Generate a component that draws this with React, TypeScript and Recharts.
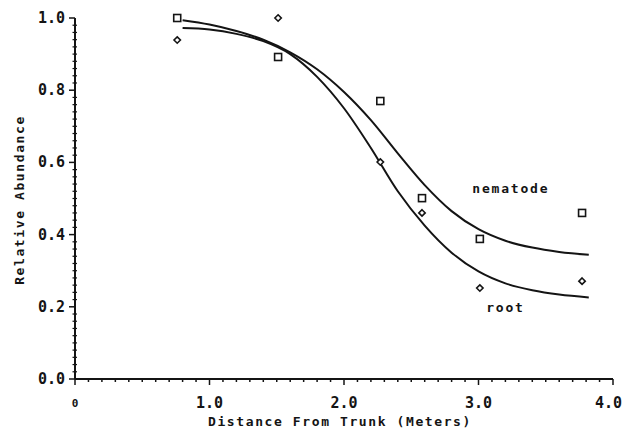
import React from 'react'
import { ComposedChart, Line, Scatter, XAxis, YAxis, Label, ReferenceDot } from 'recharts'

// observed points (squares = nematode, diamonds = root)
const nematodeObs = [
  { x: 0.76, y: 1.0 },
  { x: 1.51, y: 0.892 },
  { x: 2.27, y: 0.77 },
  { x: 2.58, y: 0.501 },
  { x: 3.01, y: 0.388 },
  { x: 3.77, y: 0.46 },
]
const rootObs = [
  { x: 0.76, y: 0.939 },
  { x: 1.51, y: 1.0 },
  { x: 2.27, y: 0.601 },
  { x: 2.58, y: 0.46 },
  { x: 3.01, y: 0.252 },
  { x: 3.77, y: 0.271 },
]

// fitted curves
const fitX = [0.8, 1.0, 1.2, 1.4, 1.6, 1.8, 2.0, 2.2, 2.4, 2.6, 2.8, 3.0, 3.2, 3.4, 3.6, 3.82]
const nematodeFitY = [0.994, 0.982, 0.964, 0.94, 0.905, 0.858, 0.795, 0.717, 0.625, 0.537, 0.465, 0.415, 0.383, 0.364, 0.352, 0.344]
const rootFitY = [0.972, 0.968, 0.956, 0.936, 0.9, 0.837, 0.75, 0.64, 0.52, 0.425, 0.35, 0.298, 0.265, 0.246, 0.234, 0.226]

const nematodeFit = fitX.map((x, i) => ({ x, y: nematodeFitY[i] }))
const rootFit = fitX.map((x, i) => ({ x, y: rootFitY[i] }))

const xTickLabels = ['0', '1.0', '2.0', '3.0', '4.0']
const yTickLabels = ['0.0', '0.2', '0.4', '0.6', '0.8', '1.0']

const xTicks = Array.from({ length: 41 }, (_, i) => i / 10)
const yTicks = Array.from({ length: 51 }, (_, i) => i / 50)

const ink = '#141414'
const mono = '"DejaVu Sans Mono", monospace'

function XTick({ x, y, payload }: any) {
  const v = payload.value
  const major = Math.abs(v - Math.round(v)) < 1e-6
  const label = xTickLabels[Math.round(v)]
  const last = Math.round(v) === 4
  return (
    <g>
      <line x1={x} x2={x} y1={y} y2={y + (major ? 6 : 3)} stroke={ink} strokeWidth={1.5} />
      {major && (
        <text
          x={last ? x + 9 : x}
          y={y + 24}
          textAnchor={last ? 'end' : 'middle'}
          dominantBaseline="central"
          fontFamily={mono}
          fontWeight="bold"
          fontSize={v === 0 ? 11 : 15}
          fill={ink}
        >
          {label}
        </text>
      )}
    </g>
  )
}

function YTick({ x, y, payload }: any) {
  const v = payload.value
  const major = Math.abs(v * 5 - Math.round(v * 5)) < 1e-6
  const label = yTickLabels[Math.round(v * 5)]
  return (
    <g>
      {major ? (
        <line x1={x - 6} x2={x} y1={y} y2={y} stroke={ink} strokeWidth={1.5} />
      ) : (
        <line x1={x - 2.5} x2={x + 2} y1={y} y2={y} stroke={ink} strokeWidth={1.2} />
      )}
      {major && (
        <text x={x - 10} y={y} textAnchor="end" dominantBaseline="central" fontFamily={mono} fontWeight="bold" fontSize={15} fill={ink}>
          {label}
        </text>
      )}
    </g>
  )
}

const square = (props: any) => (
  <rect x={props.cx - 3.5} y={props.cy - 3.5} width={7} height={7} fill="#fff" stroke={ink} strokeWidth={1.6} />
)
const diamond = (props: any) => (
  <path d={`M${props.cx},${props.cy - 3.2}L${props.cx + 3.2},${props.cy}L${props.cx},${props.cy + 3.2}L${props.cx - 3.2},${props.cy}Z`} fill="#fff" stroke={ink} strokeWidth={1.6} />
)

const curveText = (text: string) => (props: any) => (
  <text x={props.cx} y={props.cy} textAnchor="middle" dominantBaseline="central" fontFamily={mono} fontWeight="bold" fontSize={13} letterSpacing={1.8} fill={ink}>
    {text}
  </text>
)

export default function App() {
  return (
    <div style={{ position: 'absolute', left: 0, top: 0, width: 623, height: 433, background: '#fff' }}>
      <ComposedChart width={623} height={433} margin={{ top: 18, right: 10, bottom: 0, left: 0 }}>
        <XAxis
          type="number"
          dataKey="x"
          domain={[0, 4]}
          ticks={xTicks}
          interval={0}
          height={54}
          tickSize={0}
          tickMargin={0}
          tickLine={false}
          tick={<XTick />}
          axisLine={{ stroke: ink, strokeWidth: 2 }}
        >
          <Label
            content={({ viewBox }: any) => (
              <text x={340} y={viewBox.y + 42} textAnchor="middle" dominantBaseline="central" fontFamily={mono} fontWeight="bold" fontSize={13} letterSpacing={1.6} fill={ink}>
                Distance From Trunk (Meters)
              </text>
            )}
          />
        </XAxis>
        <YAxis
          type="number"
          dataKey="y"
          domain={[0, 1]}
          ticks={yTicks}
          interval={0}
          width={75}
          tickSize={0}
          tickMargin={0}
          tickLine={false}
          tick={<YTick />}
          axisLine={{ stroke: ink, strokeWidth: 2 }}
        >
          <Label
            content={() => (
              <text x={19} y={200} transform="rotate(-90 19 200)" textAnchor="middle" dominantBaseline="central" fontFamily={mono} fontWeight="bold" fontSize={13} letterSpacing={1.6} fill={ink}>
                Relative Abundance
              </text>
            )}
          />
        </YAxis>
        <Line data={nematodeFit} dataKey="y" type="monotone" stroke={ink} strokeWidth={2} dot={false} isAnimationActive={false} />
        <Line data={rootFit} dataKey="y" type="monotone" stroke={ink} strokeWidth={2} dot={false} isAnimationActive={false} />
        <Scatter data={nematodeObs} dataKey="y" shape={square} isAnimationActive={false} />
        <Scatter data={rootObs} dataKey="y" shape={diamond} isAnimationActive={false} />
        <ReferenceDot x={3.24} y={0.529} r={0} shape={curveText('nematode')} />
        <ReferenceDot x={3.2} y={0.197} r={0} shape={curveText('root')} />
      </ComposedChart>
    </div>
  )
}
